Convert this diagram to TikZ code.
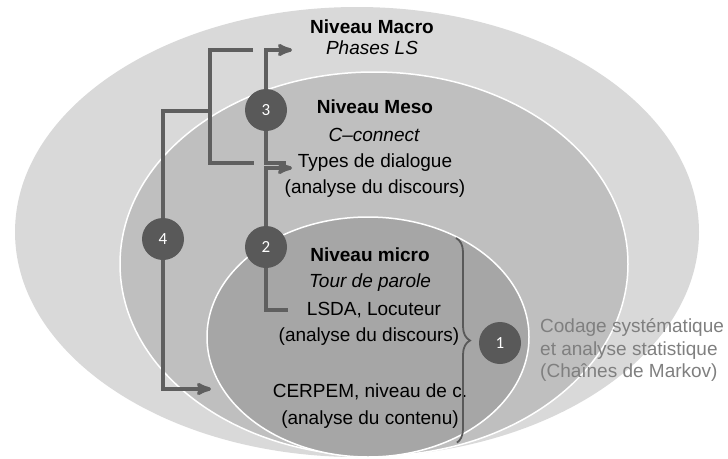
\documentclass[tikz,border=0pt]{standalone}
\usepackage{fontspec}
\setmainfont{Liberation Sans}
\newfontfamily\numfont{Carlito}
\usetikzlibrary{
        arrows,
        decorations.pathreplacing,
        positioning
    }
\definecolor{macrogray}{HTML}{D9D9D9}
\definecolor{mesogray}{HTML}{BFBFBF}
\definecolor{microgray}{HTML}{A6A6A6}
\definecolor{linkgray}{HTML}{5F5F5F}
\definecolor{stepgray}{HTML}{595959}
\definecolor{notegray}{HTML}{7F7F7F}
\tikzset{>=stealth',shorten >=1pt}
\tikzset{
    lbl/.style={font=\fontsize{19}{22}\selectfont, inner sep=0pt},
    lblbold/.style={lbl, font=\fontsize{19}{22}\selectfont\bfseries},
    lblit/.style={lbl, font=\fontsize{19}{22}\selectfont\itshape},
    note/.style={font=\fontsize{19}{22.5}\selectfont, text=notegray, inner sep=0pt, align=left},
    num/.style={circle, fill=stepgray, minimum size=42pt, inner sep=0pt, text=white, font=\numfont\fontsize{17}{20}\selectfont},
    link/.style={draw=linkgray, line width=3.5pt},
    level/.style={draw=white, line width=1.5pt}
}

\begin{document}
\begin{tikzpicture}[x=1pt,y=-1pt]
    \useasboundingbox (0,0) rectangle (728,458);
    % levels
    \fill[macrogray] (357,232) ellipse [x radius=342pt, y radius=225pt];
    \filldraw[level, fill=mesogray] (374,264) ellipse [x radius=254pt, y radius=192pt];
    \filldraw[level, fill=microgray] (368,337) ellipse [x radius=161pt, y radius=120pt];

    % texts
    \node[lblbold] (macro)   at (372,27)  {Niveau Macro};
    \node[lblit]   (phases)  at (372,48)  {Phases LS};
    \node[lblbold] (meso)    at (375,107) {Niveau Meso};
    \node[lblit]   (cconn)   at (374,135) {C--connect};
    \node[lbl]     (types)   at (375,163) {Types de dialogue};
    \node[lbl]     (mesoan)  at (375,189) {(analyse du discours)};
    \node[lblbold] (micro)   at (370,255) {Niveau micro};
    \node[lblit]   (tour)    at (370,283) {Tour de parole};
    \node[lbl]     (lsda)    at (374,310) {LSDA, Locuteur};
    \node[lbl]     (microan) at (369,337) {(analyse du discours)};
    \node[lbl]     (cerpem)  at (370,392) {CERPEM, niveau de c.};
    \node[lbl]     (contenu) at (370,420) {(analyse du contenu)};
    \node[note, anchor=west] (codage) at (540,350) {Codage systématique\\et analyse statistique\\(Chaînes de Markov)};

    % steps
    \node[num] (s3) at (266,110) {3};
    \node[num] (s2) at (266,247) {2};
    \node[num] (s4) at (163,239) {4};
    \node[num] (s1) at (500,343) {1};

    \coordinate (phasesin) at (293,50);
    \coordinate (typesin)  at (293,168);
    \coordinate (typesout) at (287,163);
    \coordinate (lsdaout)  at (289,310);
    \coordinate (brtop)    at (253,50);
    \coordinate (brbot)    at (255,163);
    \coordinate (brmid)    at (210,111);
    \coordinate (cerpemin) at (212,389);
    \coordinate (bracetop) at (456,238);
    \coordinate (bracebot) at (456,443);

    % links
    \draw[link,->] (s3) |- (phasesin);
    \draw[link] (s3) |- (typesout);
    \draw[link,->] (s2) |- (typesin);
    \draw[link] (s2) |- (lsdaout);
    \draw[link] (brtop) -| (brmid) |- (brbot);
    \draw[link] (s4) |- (brmid);
    \draw[link,->] (s4) |- (cerpemin);
    \draw[draw=stepgray, line width=1.8pt, decorate, decoration={brace, amplitude=14pt}] (bracetop) -- (bracebot);
\end{tikzpicture}
\end{document}
